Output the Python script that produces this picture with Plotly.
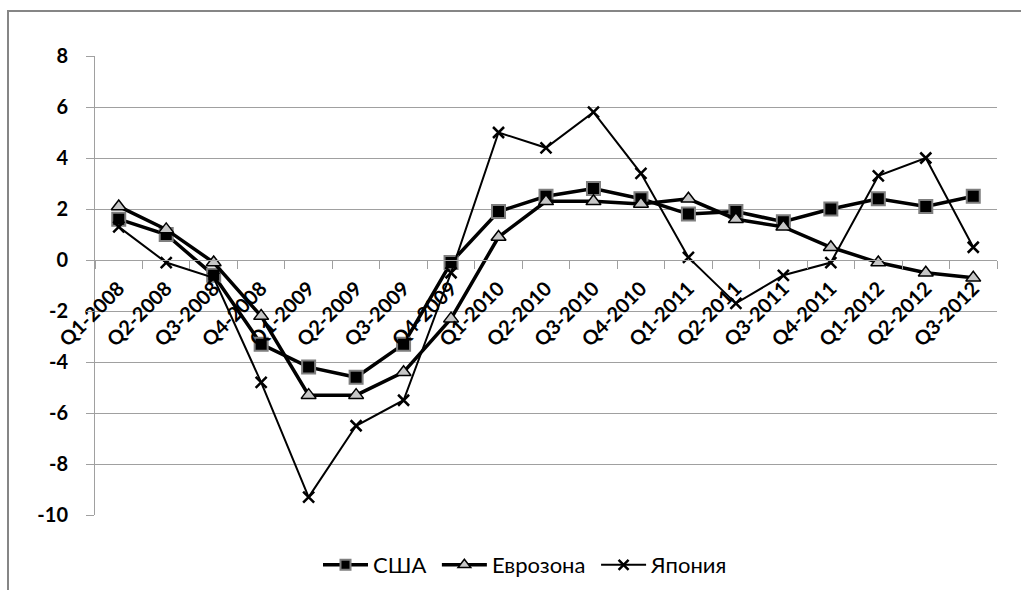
import plotly.graph_objects as go

# Quarterly GDP growth, % y/y
quarters = [
    "Q1-2008", "Q2-2008", "Q3-2008", "Q4-2008",
    "Q1-2009", "Q2-2009", "Q3-2009", "Q4-2009",
    "Q1-2010", "Q2-2010", "Q3-2010", "Q4-2010",
    "Q1-2011", "Q2-2011", "Q3-2011", "Q4-2011",
    "Q1-2012", "Q2-2012", "Q3-2012",
]
usa = [1.6, 1.0, -0.6, -3.3, -4.2, -4.6, -3.3, -0.1, 1.9, 2.5, 2.8, 2.4,
       1.8, 1.9, 1.5, 2.0, 2.4, 2.1, 2.5]
eurozone = [2.1, 1.2, -0.1, -2.2, -5.3, -5.3, -4.4, -2.3, 0.9, 2.3, 2.3, 2.2,
            2.4, 1.6, 1.3, 0.5, -0.1, -0.5, -0.7]
japan = [1.3, -0.1, -0.7, -4.8, -9.3, -6.5, -5.5, -0.5, 5.0, 4.4, 5.8, 3.4,
         0.1, -1.7, -0.6, -0.1, 3.3, 4.0, 0.5]

y_ticks = list(range(-10, 9, 2))
y_tick_text = [str(v) for v in y_ticks]  # plain hyphen for negatives
FONT = "Lato, 'Open Sans', sans-serif"
GRID = "#a0a0a0"
GAP = "\u00a0"  # extra spacing between legend entries

series = [
    dict(name="США", values=usa, width=3.5, gap=GAP,
         marker=dict(symbol="square", size=13, color="black",
                     line=dict(color="#7f7f7f", width=2)),
         legend_marker=dict(symbol="square", size=10, color="black",
                            line=dict(color="#7f7f7f", width=2))),
    dict(name="Еврозона", values=eurozone, width=3.5, gap=GAP,
         marker=dict(symbol="triangle-up", size=13, color="#c6c6c6",
                     line=dict(color="black", width=1.5)),
         legend_marker=dict(symbol="triangle-up", size=11, color="#c6c6c6",
                            line=dict(color="black", width=1.5))),
    dict(name="Япония", values=japan, width=2, gap="",
         marker=dict(symbol="x-thin", size=11, color="black",
                     line=dict(color="black", width=2.5)),
         legend_marker=dict(symbol="x-thin", size=10, color="black",
                            line=dict(color="black", width=2.5))),
]

fig = go.Figure()
for s in series:
    fig.add_trace(go.Scatter(
        x=quarters, y=s["values"], name=s["name"], mode="lines+markers",
        line=dict(color="black", width=s["width"]), marker=s["marker"],
        showlegend=False,
    ))
# legend entries with smaller key markers
for s in series:
    fig.add_trace(go.Scatter(
        x=[None], y=[None], name=s["name"] + s["gap"], mode="lines+markers",
        line=dict(color="black", width=s["width"]),
        marker=s["legend_marker"], showlegend=True,
    ))

fig.update_layout(
    width=1021, height=590,
    margin=dict(l=95, r=24, t=56, b=75),
    paper_bgcolor="white", plot_bgcolor="white",
    font=dict(family=FONT, color="black"),
    showlegend=True,
    legend=dict(orientation="h", xref="container", yref="container",
                x=318 / 1021, xanchor="left",
                y=(590 - 565) / 590, yanchor="middle",
                font=dict(family=FONT, size=22, color="black"),
                itemwidth=45, bgcolor="rgba(0,0,0,0)"),
    xaxis=dict(
        type="category", range=[-0.5, len(quarters) - 0.5],
        anchor="free", position=10 / 18,
        showline=True, linecolor=GRID, linewidth=1,
        ticks="outside", ticklen=8, tickcolor=GRID, tickson="boundaries",
        tickangle=-45, showgrid=False, zeroline=False,
        ticklabelstandoff=8,
        tickfont=dict(family=FONT, size=20, color="black", weight="bold"),
        automargin=False,
    ),
    yaxis=dict(
        range=[-10, 8], tickvals=y_ticks, ticktext=y_tick_text,
        showgrid=True, gridcolor=GRID, gridwidth=1,
        showline=True, linecolor=GRID, linewidth=1,
        ticks="outside", ticklen=8, tickcolor=GRID,
        ticklabelstandoff=14, zeroline=False,
        tickfont=dict(family=FONT, size=20, color="black", weight="bold"),
        automargin=False,
    ),
    shapes=[dict(
        type="rect", xref="paper", yref="paper",
        x0=-87 / 902, x1=1.05, y0=-0.25, y1=(515 - 11) / 459,
        line=dict(color="#868686", width=2), layer="below",
    )],
)

fig.write_html("out.html")
